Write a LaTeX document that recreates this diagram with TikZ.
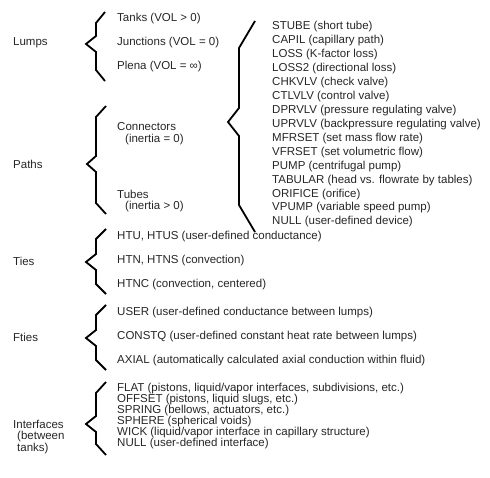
\documentclass[tikz,border=0pt]{standalone}
\usepackage{fontspec}
\setmainfont{Liberation Sans}
\begin{document}
\begin{tikzpicture}[x=1pt,y=-1pt,
  lbl/.style={anchor=west,inner sep=0pt,font=\fontsize{11.5}{12}\selectfont,text=black!85},
  item/.style={anchor=west,inner sep=0pt,font=\fontsize{11.5}{12}\selectfont,text=black!85},
  brc/.style={draw=black,line width=1.8pt,line join=miter}]
\useasboundingbox (0,0) rectangle (490,478);
% brace: xt xv xn ytop ymid ybot slantdy notchdy
\newcommand{\zbrace}[8]{%
  \draw[brc] (#1,#4) -- (#2,#4+#7) -- (#2,#5-#8) -- (#3,#5) -- (#2,#5+#8) -- (#2,#6-#7) -- (#1,#6);}
% Lumps
\node[lbl] (lumps) at (13,43) {Lumps};
\node[item] (tanks) at (117,19) {Tanks (VOL > 0)};
\node[item] (junc) at (117,43) {Junctions (VOL = 0)};
\node[item] (plena) at (117,67) {Plena (VOL = ∞)};
\zbrace{105}{96}{86}{12}{44}{81}{11}{8}
% Paths
\node[lbl] (paths) at (13,164) {Paths};
\node[item] (conn) at (117,127) {Connectors};
\node[item] (conni) at (125,139.5) {(inertia = 0)};
\node[item] (tubes) at (117,194) {Tubes};
\node[item] (tubesi) at (125,206.5) {(inertia > 0)};
\zbrace{106}{96}{87}{106}{164}{214}{11}{8}
% big brace
\zbrace{255}{239}{228}{21}{122}{232}{27}{14}
\node[item] (l1) at (272,27) {STUBE (short tube)};
\node[item] (l2) at (272,41) {CAPIL (capillary path)};
\node[item] (l3) at (272,55) {LOSS (K-factor loss)};
\node[item] (l4) at (272,69) {LOSS2 (directional loss)};
\node[item] (l5) at (272,83) {CHKVLV (check valve)};
\node[item] (l6) at (272,97) {CTLVLV (control valve)};
\node[item] (l7) at (272,111) {DPRVLV (pressure regulating valve)};
\node[item] (l8) at (272,125) {UPRVLV (backpressure regulating valve)};
\node[item] (l9) at (272,139) {MFRSET (set mass flow rate)};
\node[item] (l10) at (272,153) {VFRSET (set volumetric flow)};
\node[item] (l11) at (272,167) {PUMP (centrifugal pump)};
\node[item] (l12) at (272,181) {TABULAR (head vs. flowrate by tables)};
\node[item] (l13) at (272,195) {ORIFICE (orifice)};
\node[item] (l14) at (272,208) {VPUMP (variable speed pump)};
\node[item] (l15) at (272,222) {NULL (user-defined device)};
% Ties
\node[lbl] (ties) at (13,261) {Ties};
\node[item] (htu) at (117,237) {HTU, HTUS (user-defined conductance)};
\node[item] (htn) at (117,261) {HTN, HTNS (convection)};
\node[item] (htnc) at (117,285) {HTNC (convection, centered)};
\zbrace{106}{96}{86}{229}{262}{294}{10}{8}
% Fties
\node[lbl] (fties) at (13,337) {Fties};
\node[item] (user) at (117,313) {USER (user-defined conductance between lumps)};
\node[item] (constq) at (117,337) {CONSTQ (user-defined constant heat rate between lumps)};
\node[item] (axial) at (117,361) {AXIAL (automatically calculated axial conduction within fluid)};
\zbrace{106}{96}{86}{305}{338}{370}{10}{8}
% Interfaces
\node[lbl] (ifc1) at (13,424.5) {Interfaces};
\node[lbl] (ifc2) at (17,437) {(between};
\node[lbl] (ifc3) at (17,449) {tanks)};
\node[item] (flat) at (117,389) {FLAT (pistons, liquid/vapor interfaces, subdivisions, etc.)};
\node[item] (offset) at (117,400) {OFFSET (pistons, liquid slugs, etc.)};
\node[item] (spring) at (117,411) {SPRING (bellows, actuators, etc.)};
\node[item] (sphere) at (117,422) {SPHERE (spherical voids)};
\node[item] (wick) at (117,433) {WICK (liquid/vapor interface in capillary structure)};
\node[item] (null2) at (117,444) {NULL (user-defined interface)};
\zbrace{106}{96}{86}{382}{424}{455}{11}{8}
\end{tikzpicture}
\end{document}
